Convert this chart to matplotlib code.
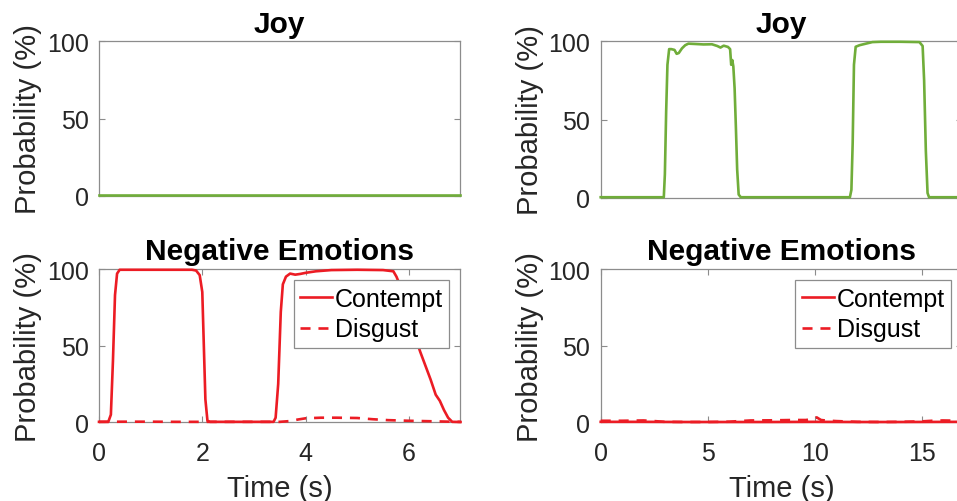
import matplotlib
matplotlib.use("Agg")
import matplotlib.pyplot as plt

plt.rcParams['font.family'] = ['Liberation Sans', 'DejaVu Sans']

# ---------------- data ----------------
# Top-left: Joy (0-7 s)
t_joy_a = [0.0, 7.0]
joy_a = [0.3, 0.3]

# Bottom-left: negative emotions (0-7 s)
t_con_a = [0, 0.18, 0.23, 0.27, 0.31, 0.35, 0.40, 1.80, 1.88, 1.95, 2.00, 2.03, 2.06,
           2.10, 2.15, 3.38, 3.42, 3.47, 3.52, 3.56, 3.62, 3.70, 3.80, 3.90, 4.00, 4.20,
           4.50, 5.00, 5.50, 5.70, 5.76, 5.82, 5.90, 6.00, 6.10, 6.22, 6.32, 6.42, 6.52,
           6.60, 6.68, 6.76, 6.84, 7.0]
con_a = [0.3, 0.3, 5, 40, 83, 97, 99.5, 99.5, 99, 96, 85, 50, 15, 1, 0.3, 0.3, 3, 25,
         72, 90, 95, 97, 96.3, 96.8, 97.5, 98.5, 99.3, 99.5, 99.3, 98.5, 95, 90, 82, 70,
         58, 46, 37, 28, 18, 14, 8, 3, 0.3, 0.2]
t_dis_a = [0, 0.5, 1.0, 1.5, 2.0, 2.5, 3.0, 3.5, 3.7, 3.85, 4.0, 4.3, 4.6, 5.0, 5.3,
           5.6, 6.0, 6.4, 6.8, 7.0]
dis_a = [0.3, 0.4, 0.4, 0.3, 0.3, 0.3, 0.3, 0.3, 0.8, 1.8, 2.6, 3.0, 3.0, 2.8, 2.0,
         1.4, 1.0, 0.7, 0.4, 0.3]

# Top-right: Joy (0-16.9 s)
t_joy_b = [0, 2.95, 3.0, 3.06, 3.12, 3.2, 3.3, 3.45, 3.55, 3.65, 3.8, 3.95, 4.1, 4.4,
           4.8, 5.2, 5.45, 5.6, 5.75, 5.95, 6.05, 6.1, 6.15, 6.2, 6.26, 6.32, 6.38,
           6.45, 6.55, 11.65, 11.72, 11.78, 11.84, 11.92, 12.1, 12.4, 12.7, 13.1, 14.0,
           14.9, 15.05, 15.12, 15.2, 15.28, 15.35, 16.9]
joy_b = [0.3, 0.3, 15, 55, 85, 95, 95, 94.5, 92, 92.5, 95.5, 97.5, 98.5, 98.3, 98, 98.1,
         97, 96, 97.2, 96.4, 95, 85, 88, 84, 70, 45, 18, 2, 0.3, 0.3, 5, 35, 85, 96.5,
         97.5, 98.5, 99.5, 99.7, 99.7, 99.5, 97, 75, 30, 3, 0.3, 0.3]

# Bottom-right: negative emotions (0-16.9 s)
t_con_b = [0, 2, 4, 6, 8, 10, 12, 14, 16.9]
con_b = [0.3, 0.3, 0.2, 0.2, 0.2, 0.3, 0.2, 0.2, 0.3]
t_dis_b = [0, 1, 2, 2.5, 3, 4, 5, 6, 6.5, 7, 8, 9, 9.6, 9.9, 10.1, 10.3, 10.5, 11, 12,
           13, 14, 15, 15.5, 16, 16.9]
dis_b = [1.0, 1.0, 1.2, 0.8, 0.3, 0.2, 0.2, 0.4, 0.8, 1.2, 1.3, 1.5, 1.5, 2.2, 3.2, 1.5,
         1.2, 0.8, 0.3, 0.2, 0.3, 0.6, 1.0, 1.2, 1.0]

titles = ["Joy", "Negative Emotions"]
legend_labels = ["Contempt", "Disgust"]
xlim_a = 7.0
xlim_b = 16.9
xticks_a = [0, 2, 4, 6]
xticks_b = [0, 5, 10, 15]
yticks = [0, 50, 100]

# ---------------- style ----------------
GREEN = '#70ad3a'
RED = '#ec1c24'
SPINE = '#8c8c8c'
TXT = '#262626'
TICK_FS = 18
LAB_FS = 21
TITLE_FS = 21.5
LW = 1.9

W, H = 957, 502
fig = plt.figure(figsize=(W / 100, H / 100), dpi=100)

def pos(left_px, top_px, w_px, h_px):
    return [left_px / W, 1 - (top_px + h_px) / H, w_px / W, h_px / H]

ax_tl = fig.add_axes(pos(99, 42.3, 361.5, 154.4))
ax_bl = fig.add_axes(pos(99, 270, 361.5, 153.3))
ax_tr = fig.add_axes(pos(600.7, 42.3, 361.5, 156.4))
ax_br = fig.add_axes(pos(600.7, 270, 361.5, 153.3))

def style(ax, xmax, xticks, show_x):
    ax.set_xlim(0, xmax)
    ax.set_ylim(0, 100)
    ax.set_yticks(yticks)
    for s in ax.spines.values():
        s.set_color(SPINE)
        s.set_linewidth(0.9)
        s.set_zorder(2)
    ax.tick_params(direction='in', length=4, width=0.8, color=SPINE,
                   labelsize=TICK_FS, labelcolor=TXT, top=True, right=True)
    ax.tick_params(axis='y', pad=7.5)
    ax.tick_params(axis='x', pad=13.5)
    if show_x:
        ax.set_xticks(xticks)
        ax.set_xlabel("Time (s)", fontsize=LAB_FS, color=TXT, labelpad=6.5)
    else:
        ax.set_xticks([])
    ax.set_ylabel("Probability (%)", fontsize=LAB_FS, color=TXT, labelpad=3.5)

style(ax_tl, xlim_a, xticks_a, False)
style(ax_bl, xlim_a, xticks_a, True)
style(ax_tr, xlim_b, xticks_b, False)
style(ax_br, xlim_b, xticks_b, True)

ax_tl.set_title(titles[0], fontsize=TITLE_FS, fontweight='bold', pad=7)
ax_tr.set_title(titles[0], fontsize=TITLE_FS, fontweight='bold', pad=7)
ax_bl.set_title(titles[1], fontsize=TITLE_FS, fontweight='bold', pad=7.5)
ax_br.set_title(titles[1], fontsize=TITLE_FS, fontweight='bold', pad=7.5)

ax_tl.plot(t_joy_a, joy_a, color=GREEN, lw=LW, clip_on=False, zorder=3)
ax_tr.plot(t_joy_b, joy_b, color=GREEN, lw=LW, clip_on=False, zorder=3)

for ax, tc, vc, td, vd in [(ax_bl, t_con_a, con_a, t_dis_a, dis_a),
                           (ax_br, t_con_b, con_b, t_dis_b, dis_b)]:
    ax.plot(tc, vc, color=RED, lw=LW, clip_on=False, zorder=3, label=legend_labels[0])
    ax.plot(td, vd, color=RED, lw=LW, ls=(0, (3.8, 3.0)), clip_on=False, zorder=3,
            label=legend_labels[1])
    leg = ax.legend(loc='upper right', fontsize=TICK_FS, frameon=True, fancybox=False,
                    framealpha=1, edgecolor=SPINE, borderpad=0.25, labelspacing=0.28,
                    handlelength=1.3, handletextpad=0.1, borderaxespad=0.45)
    leg.get_frame().set_linewidth(0.9)
    for t in leg.get_texts():
        t.set_color('black')

fig.savefig("out.png", dpi=100)
